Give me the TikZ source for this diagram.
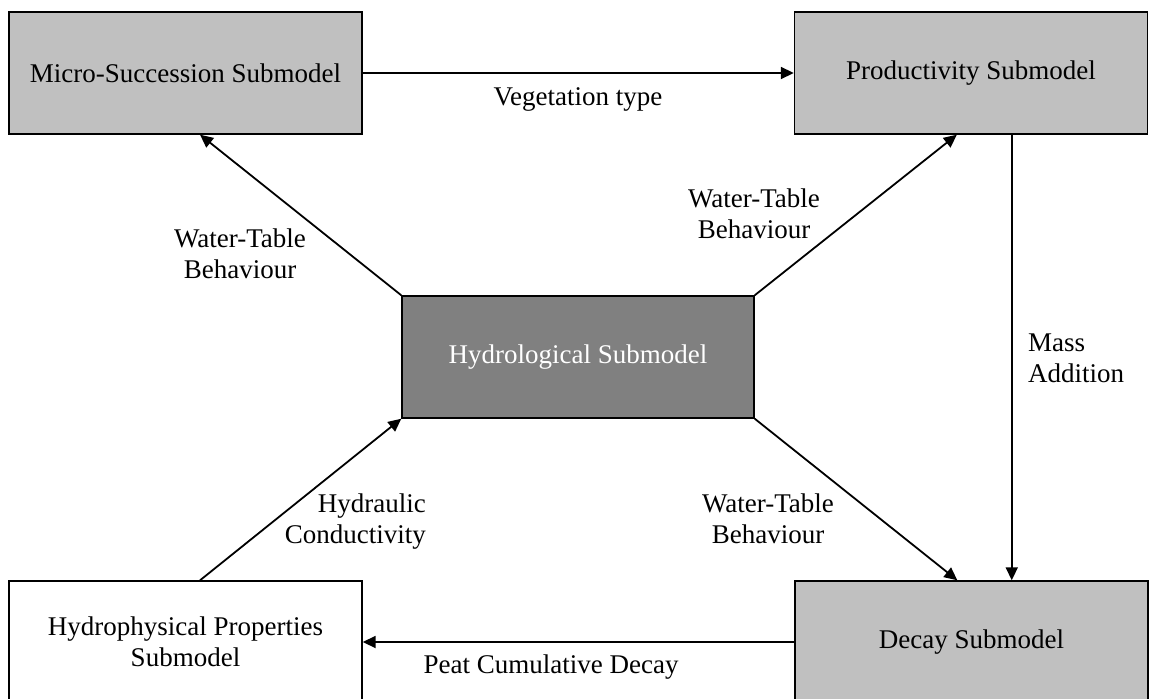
\documentclass[tikz,border=0pt]{standalone}
\usepackage{fontspec}
\setmainfont{Liberation Serif}
\usetikzlibrary{arrows.meta,calc}
\definecolor{boxgray}{HTML}{C0C0C0}
\definecolor{darkbox}{HTML}{808080}
\begin{document}
\begin{tikzpicture}[x=1pt,y=-1pt,
  font=\fontsize{27}{30.5}\selectfont,
  box/.style={draw=black,line width=1.4pt,minimum width=353pt,minimum height=122pt,inner sep=0pt,align=center},
  arr/.style={line width=1.8pt,-{Triangle[length=13pt,width=12pt]}},
  lbl/.style={inner sep=0pt,align=center}]
\useasboundingbox (0,0) rectangle (1149,699);
\node[box,fill=boxgray] (micro) at (185.5,73) {Micro-Succession Submodel};
\node[box,fill=boxgray] (prod) at (971,73) {Productivity Submodel};
\node[box,fill=darkbox,text=white,minimum width=352pt] (hydro) at (578,357) {Hydrological Submodel};
\node[box,fill=white] (phys) at (185.5,642) {Hydrophysical Properties\\Submodel};
\node[box,fill=boxgray] (decay) at (971.5,642) {Decay Submodel};
\draw[arr] (micro) -- (prod);
\draw[arr] (hydro.north west) -- ($(micro.south west)!0.541!(micro.south east)$);
\draw[arr] (hydro.north east) -- ($(prod.south west)!0.46!(prod.south east)$);
\draw[arr] ($(prod.south west)!0.615!(prod.south east)$) coordinate (pm) -- (pm |- decay.north);
\draw[arr] (hydro.south east) -- ($(decay.north west)!0.46!(decay.north east)$);
\draw[arr] ($(phys.north west)!0.541!(phys.north east)$) -- (hydro.south west);
\draw[arr] (decay) -- (phys);
\node[lbl,anchor=base] (l1) at (578,105) {Vegetation type};
\node[lbl,anchor=base] (l2) at (240,278) {Water-Table\\Behaviour};
\node[lbl,anchor=base] (l3) at (754,238) {Water-Table\\Behaviour};
\node[lbl,anchor=base west,align=left] (l4) at (1028,382) {Mass\\Addition};
\node[lbl,anchor=base] (l5) at (768,543) {Water-Table\\Behaviour};
\node[lbl,anchor=base east,align=right] (l6) at (426,543) {Hydraulic\\Conductivity};
\node[lbl,anchor=base] (l7) at (551,673) {Peat Cumulative Decay};
\end{tikzpicture}
\end{document}
